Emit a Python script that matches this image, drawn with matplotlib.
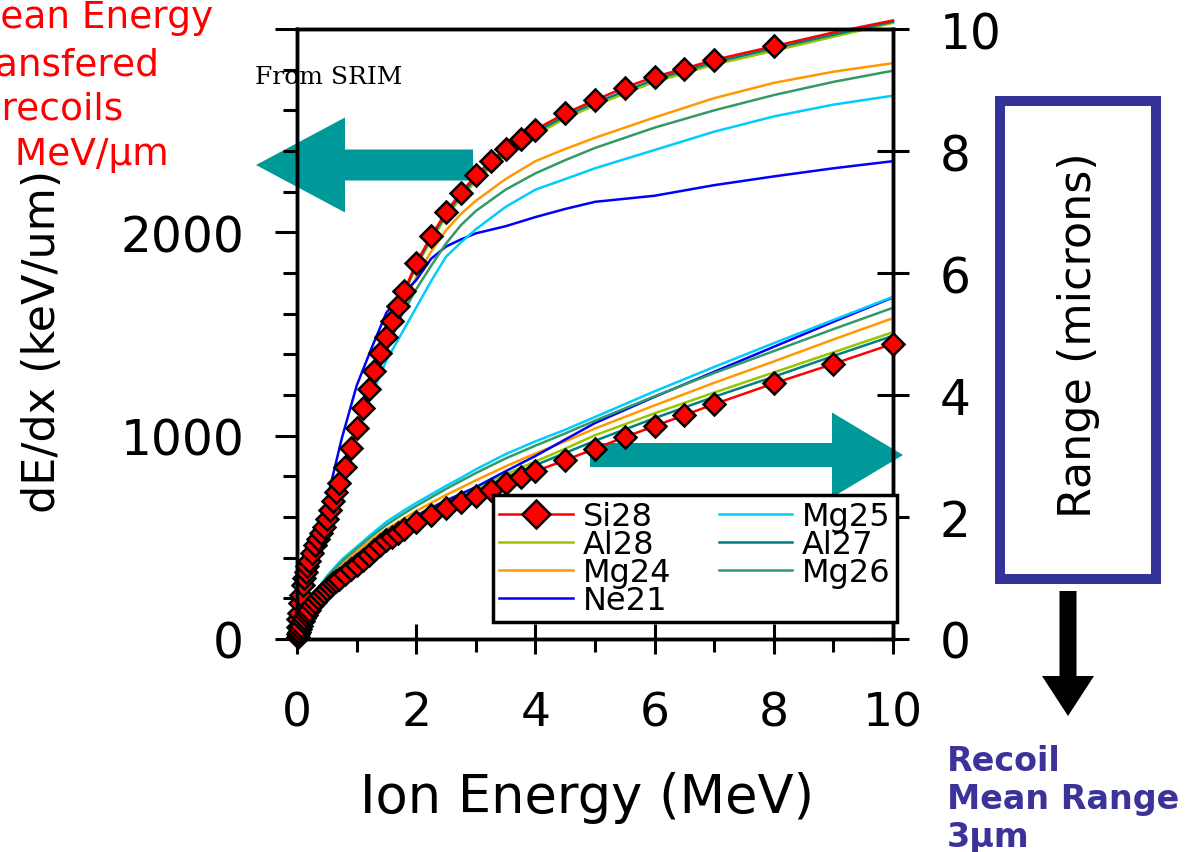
import matplotlib
matplotlib.use('Agg')
import matplotlib.pyplot as plt
from matplotlib.patches import FancyArrow, Rectangle
from matplotlib.ticker import MultipleLocator

plt.rcParams['font.family'] = ['DejaVu Sans']

# Si28 from SRIM (the curve with markers)
si_energy = [0.01, 0.02, 0.03, 0.05, 0.07, 0.1, 0.125, 0.15, 0.175, 0.2,
             0.25, 0.3, 0.35, 0.4, 0.45, 0.5, 0.55, 0.6, 0.65, 0.7,
             0.8, 0.9, 1.0, 1.1, 1.2, 1.3, 1.4, 1.5, 1.6, 1.7,
             1.8, 2.0, 2.25, 2.5, 2.75, 3.0, 3.25, 3.5, 3.75, 4.0,
             4.5, 5.0, 5.5, 6.0, 6.5, 7.0, 8.0, 9.0, 10.0]
si_dedx = [60, 100, 130, 175, 215, 265, 300, 330, 360, 385,
           425, 460, 494, 522, 552, 590, 635, 680, 725, 765,
           845, 940, 1037, 1135, 1230, 1320, 1405, 1485, 1565, 1640,
           1710, 1850, 1980, 2100, 2195, 2280, 2350, 2410, 2460, 2505,
           2585, 2650, 2712, 2765, 2805, 2848, 2915, 2983, 3042]
si_range = [0.04, 0.08, 0.11, 0.17, 0.22, 0.29, 0.34, 0.39, 0.44, 0.48,
            0.55, 0.61, 0.67, 0.72, 0.77, 0.82, 0.87, 0.91, 0.95, 0.99,
            1.07, 1.15, 1.22, 1.30, 1.38, 1.46, 1.54, 1.62, 1.68, 1.74,
            1.80, 1.91, 2.03, 2.15, 2.25, 2.34, 2.45, 2.55, 2.65, 2.75,
            2.93, 3.12, 3.31, 3.49, 3.67, 3.85, 4.19, 4.51, 4.84]

# the other ions
energy = [0.01, 0.05, 0.1, 0.2, 0.3, 0.5, 0.75, 1.0, 1.25, 1.5, 1.75, 2.0, 2.25,
          2.5, 2.75, 3.0, 3.5, 4.0, 4.5, 5.0, 6.0, 7.0, 8.0, 9.0, 10.0]

al28_dedx = [58, 170, 258, 378, 452, 580, 790, 1025, 1262, 1470, 1665, 1830, 1962,
             2075, 2170, 2252, 2382, 2480, 2560, 2625, 2740, 2825, 2893, 2962, 3030]
mg24_dedx = [58, 170, 258, 378, 452, 580, 790, 1022, 1245, 1445, 1620, 1780, 1905,
             2010, 2090, 2155, 2262, 2350, 2410, 2465, 2565, 2660, 2735, 2790, 2832]
ne21_dedx = [62, 185, 280, 410, 500, 680, 985, 1245, 1430, 1605, 1690, 1765, 1870,
             1930, 1965, 1995, 2030, 2075, 2115, 2150, 2180, 2232, 2275, 2315, 2350]
mg25_dedx = [56, 165, 250, 365, 440, 560, 770, 1015, 1200, 1370, 1500, 1630, 1760,
             1880, 1950, 2015, 2125, 2210, 2262, 2315, 2405, 2495, 2570, 2628, 2672]
al27_dedx = [59, 172, 261, 381, 456, 585, 795, 1030, 1268, 1477, 1672, 1840, 1972,
             2087, 2182, 2266, 2396, 2492, 2572, 2637, 2752, 2836, 2905, 2972, 3036]
mg26_dedx = [57, 168, 255, 372, 447, 572, 780, 1008, 1225, 1418, 1590, 1720, 1835,
             1945, 2035, 2105, 2210, 2290, 2355, 2415, 2515, 2600, 2675, 2740, 2795]

al28_range = [0.05, 0.19, 0.32, 0.52, 0.67, 0.92, 1.16, 1.36, 1.54, 1.71, 1.86, 2.00, 2.13,
              2.25, 2.37, 2.48, 2.70, 2.91, 3.12, 3.34, 3.70, 4.04, 4.37, 4.70, 5.03]
mg24_range = [0.05, 0.20, 0.34, 0.55, 0.70, 0.97, 1.22, 1.43, 1.62, 1.80, 1.95, 2.10, 2.23,
              2.36, 2.48, 2.60, 2.83, 3.04, 3.24, 3.45, 3.83, 4.20, 4.55, 4.91, 5.26]
ne21_range = [0.05, 0.20, 0.33, 0.52, 0.67, 0.92, 1.17, 1.38, 1.56, 1.73, 1.88, 2.02, 2.15,
              2.27, 2.38, 2.49, 2.75, 3.00, 3.27, 3.54, 3.97, 4.38, 4.79, 5.20, 5.60]
mg25_range = [0.05, 0.22, 0.36, 0.58, 0.75, 1.03, 1.30, 1.51, 1.72, 1.92, 2.08, 2.23, 2.37,
              2.51, 2.64, 2.78, 3.03, 3.24, 3.43, 3.64, 4.06, 4.46, 4.85, 5.23, 5.61]
al27_range = [0.05, 0.19, 0.31, 0.50, 0.65, 0.90, 1.13, 1.33, 1.51, 1.68, 1.82, 1.96, 2.09,
              2.21, 2.32, 2.43, 2.65, 2.85, 3.05, 3.25, 3.62, 3.97, 4.30, 4.64, 4.97]
mg26_range = [0.05, 0.21, 0.35, 0.57, 0.73, 1.01, 1.27, 1.48, 1.68, 1.87, 2.03, 2.18, 2.32,
              2.46, 2.59, 2.72, 2.96, 3.17, 3.37, 3.58, 3.98, 4.36, 4.72, 5.08, 5.43]

ions = ['Al28', 'Mg24', 'Ne21', 'Mg25', 'Al27', 'Mg26']
ion_dedx = [al28_dedx, mg24_dedx, ne21_dedx, mg25_dedx, al27_dedx, mg26_dedx]
ion_range = [al28_range, mg24_range, ne21_range, mg25_range, al27_range, mg26_range]
ion_colors = ['#99c400', '#ff9900', '#0000ff', '#00ccff', '#008080', '#339966']

W, H = 1185, 853


def fx(px):
    return px / W


def fy(py):
    return 1 - py / H


def ix(px):
    return px / 100


def iy(py):
    return (H - py) / 100


fig = plt.figure(figsize=(W / 100, H / 100), dpi=100)
ax = fig.add_axes([fx(297), fy(640), (893 - 297) / W, (640 - 30) / H])
ax2 = ax.twinx()
ax.patch.set_alpha(0)
ax2.patch.set_alpha(0)

lines = {}
for name, d, r, c in zip(ions, ion_dedx, ion_range, ion_colors):
    lines[name], = ax.plot(energy, d, color=c, lw=1.8, clip_on=False, label=name)
    ax2.plot(energy, r, color=c, lw=1.8, clip_on=False)

mk = dict(marker='D', ms=11, mfc='red', mec='black', mew=1.8)
lines['Si28'], = ax.plot(si_energy, si_dedx, color='red', lw=1.8, clip_on=False,
                         markevery=slice(0, -2), zorder=5, label='Si28', **mk)
ax2.plot(si_energy, si_range, color='red', lw=1.8, clip_on=False, zorder=5, **mk)

ax.set_xlim(0, 10)
ax.set_ylim(0, 3000)
ax2.set_ylim(0, 10)

ax.set_xticks([0, 2, 4, 6, 8, 10])
ax.xaxis.set_minor_locator(MultipleLocator(1))
ax.set_yticks([0, 1000, 2000, 3000])
ax.set_yticklabels(['0', '1000', '2000', ''])
ax.yaxis.set_minor_locator(MultipleLocator(200))
ax2.set_yticks([0, 2, 4, 6, 8, 10])

ax.tick_params(axis='x', which='major', direction='inout', length=22, width=2.2,
               labelsize=34, pad=26, top=False)
ax.tick_params(axis='x', which='minor', direction='out', length=9, width=2.2, top=False)
ax.tick_params(axis='y', which='major', direction='out', length=16, width=2.2,
               labelsize=35, pad=22, right=False)
ax.tick_params(axis='y', which='minor', direction='out', length=10, width=2.2, right=False)
ax2.tick_params(axis='y', which='major', direction='inout', length=23, width=2.2,
                labelsize=35, pad=22)
for a in (ax, ax2):
    for s in a.spines.values():
        s.set_linewidth(2.5)

handles = [lines[n] for n in ['Si28', 'Al28', 'Mg24', 'Ne21', 'Mg25', 'Al27', 'Mg26']]
leg = ax2.legend(handles, [h.get_label() for h in handles], ncol=2, loc='upper left',
                 bbox_to_anchor=(fx(493), fy(496)), bbox_transform=fig.transFigure,
                 fontsize=23, fancybox=False, edgecolor='black', framealpha=1,
                 borderpad=0.2, labelspacing=-0.1, handlelength=2.3,
                 handletextpad=0.3, columnspacing=1.5, borderaxespad=0,
                 numpoints=1, markerscale=1.3)
leg.get_frame().set_linewidth(2.5)

# axis titles
fig.text(fx(43), fy(341), 'dE/dx (keV/um)', rotation=90, ha='center', va='center', fontsize=32)
fig.text(fx(1078), fy(335), 'Range (microns)', rotation=90, ha='center', va='center', fontsize=32)
fig.text(fx(587), fy(798), 'Ion Energy (MeV)', ha='center', va='center', fontsize=38)
fig.text(fx(255), fy(78), 'From SRIM', family='DejaVu Serif', fontsize=18, ha='left', va='center')

# red note, top left (cut off at the edge)
red_lines = ['Mean Energy', 'Transfered', 'to recoils', 'in MeV/µm']
red_x = [-32, -38, -48, -31]
red_y = [28, 75, 120, 165]
for t, x, y in zip(red_lines, red_x, red_y):
    fig.text(fx(x), fy(y), t, color='red', fontsize=27, ha='left', va='baseline')

blue_lines = ['Recoil', 'Mean Range', '3µm']
blue_y = [771, 809, 847]
for t, y in zip(blue_lines, blue_y):
    fig.text(fx(947), fy(y), t, color='#3b3399', fontsize=24, fontweight='semibold',
             ha='left', va='baseline')

# arrows and box
teal = '#009999'
fig.add_artist(FancyArrow(ix(473), iy(166), -2.17, 0, width=0.31, head_width=0.95,
                          head_length=0.89, length_includes_head=True, color=teal,
                          lw=0, transform=fig.dpi_scale_trans, zorder=-1))
fig.add_artist(FancyArrow(ix(590), iy(456), 3.13, 0, width=0.24, head_width=0.85,
                          head_length=0.71, length_includes_head=True, color=teal,
                          lw=0, transform=fig.dpi_scale_trans, zorder=-1))
fig.add_artist(FancyArrow(ix(1068), iy(592), 0, -1.25, width=0.17, head_width=0.52,
                          head_length=0.40, length_includes_head=True, color='black',
                          lw=0, transform=fig.dpi_scale_trans, zorder=1))
fig.add_artist(Rectangle((ix(1000), iy(580)), 1.56, 4.78, fill=False, edgecolor='#333399',
                         lw=7.2, transform=fig.dpi_scale_trans, zorder=1))

fig.savefig('out.png', dpi=100)
